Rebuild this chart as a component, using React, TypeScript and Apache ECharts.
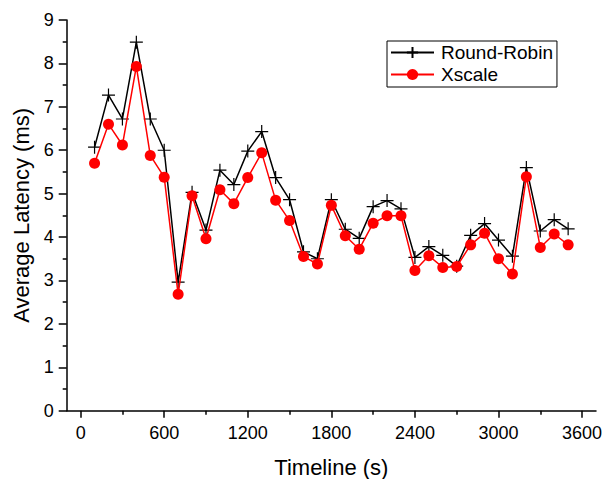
import React, { useEffect, useRef } from "react";
import * as echarts from "echarts";

const timeline = [100, 200, 300, 400, 500, 600, 700, 800, 900, 1000, 1100, 1200, 1300, 1400, 1500, 1600, 1700, 1800, 1900, 2000, 2100, 2200, 2300, 2400, 2500, 2600, 2700, 2800, 2900, 3000, 3100, 3200, 3300, 3400, 3500];
const roundRobin = [6.07, 7.27, 6.72, 8.49, 6.72, 6.0, 2.96, 5.03, 4.16, 5.54, 5.21, 5.98, 6.43, 5.37, 4.86, 3.66, 3.5, 4.86, 4.18, 3.97, 4.7, 4.84, 4.65, 3.53, 3.78, 3.58, 3.33, 4.04, 4.31, 3.93, 3.56, 5.6, 4.14, 4.4, 4.19];
const xscale = [5.7, 6.6, 6.12, 7.93, 5.88, 5.38, 2.68, 4.95, 3.96, 5.09, 4.77, 5.37, 5.94, 4.85, 4.38, 3.55, 3.38, 4.73, 4.03, 3.72, 4.32, 4.49, 4.49, 3.23, 3.57, 3.3, 3.32, 3.82, 4.09, 3.5, 3.15, 5.39, 3.76, 4.07, 3.82];
const xMajorTicks = [0, 600, 1200, 1800, 2400, 3000, 3600];
const xMinorTicks = [300, 900, 1500, 2100, 2700, 3300];

const FONT = "'Liberation Sans', Arial, sans-serif";

export default function App() {
  const ref = useRef<HTMLDivElement>(null);
  useEffect(() => {
    if (!ref.current) return;
    const chart = echarts.init(ref.current, undefined, { renderer: "svg" });
    chart.setOption({
      animation: false,
      backgroundColor: "#fff",
      grid: { left: 66.7, right: 19, top: 20, bottom: 68.3, containLabel: false, outerBoundsMode: "none" },
      legend: {
        orient: "vertical",
        left: 387,
        top: 41,
        width: 168,
        padding: [2, 4, 3, 3],
        itemGap: 3,
        itemWidth: 43,
        itemHeight: 14,
        borderColor: "#000",
        borderWidth: 1,
        textStyle: { fontFamily: FONT, fontSize: 19, color: "#000", padding: [0, 0, 0, 2] },
        data: ["Round-Robin", "Xscale"],
      },
      xAxis: [
        {
          type: "value",
          min: -100,
          max: 3700,
          position: "bottom",
          axisLine: { show: true, onZero: false, lineStyle: { color: "#000", width: 1.5 } },
          splitLine: { show: false },
          axisTick: { show: true, inside: false, length: 7, customValues: xMajorTicks, lineStyle: { color: "#000", width: 1.5 } },
          axisLabel: { show: true, customValues: xMajorTicks, formatter: (v: number) => String(v), fontFamily: FONT, fontSize: 18, color: "#000", margin: 13 },
          name: "Timeline (s)",
          nameLocation: "middle",
          nameGap: 46,
          nameTextStyle: { fontFamily: FONT, fontSize: 22, color: "#000" },
        },
        {
          type: "value",
          min: -100,
          max: 3700,
          position: "bottom",
          axisLine: { show: false, onZero: false },
          splitLine: { show: false },
          axisTick: { show: true, inside: false, length: 4, customValues: xMinorTicks, lineStyle: { color: "#000", width: 1.5 } },
          axisLabel: { show: false },
        },
      ],
      yAxis: {
        type: "value",
        min: 0,
        max: 9,
        interval: 1,
        axisLine: { show: true, onZero: false, lineStyle: { color: "#000", width: 1.5 } },
        splitLine: { show: false },
        axisTick: { show: true, inside: false, length: 8, lineStyle: { color: "#000", width: 1.5 } },
        minorTick: { show: true, splitNumber: 2, length: 4, lineStyle: { color: "#000", width: 1.5 } },
        axisLabel: { show: true, fontFamily: FONT, fontSize: 18, color: "#000", margin: 13 },
        name: "Average Latency (ms)",
        nameLocation: "middle",
        nameRotate: 90,
        nameGap: 34,
        nameTextStyle: { fontFamily: FONT, fontSize: 22, color: "#000" },
      },
      series: [
        {
          name: "Round-Robin",
          type: "line",
          xAxisIndex: 0,
          data: timeline.map((t, i) => [t, roundRobin[i]]),
          symbol: "path://M5,0L5,10M0,5L10,5",
          symbolSize: 13,
          showAllSymbol: true,
          lineStyle: { color: "#000", width: 1.5 },
          itemStyle: { color: "#000", borderColor: "#000", borderWidth: 1.2 },
          z: 2,
        },
        {
          name: "Xscale",
          type: "line",
          xAxisIndex: 0,
          data: timeline.map((t, i) => [t, xscale[i]]),
          symbol: "circle",
          symbolSize: 11,
          showAllSymbol: true,
          lineStyle: { color: "#ff0000", width: 1.5 },
          itemStyle: { color: "#ff0000", borderColor: "#ff0000", borderWidth: 0 },
          z: 3,
        },
      ],
    });
    return () => chart.dispose();
  }, []);
  return <div ref={ref} style={{ position: "fixed", left: 0, top: 0, width: 615, height: 479 }} />;
}
